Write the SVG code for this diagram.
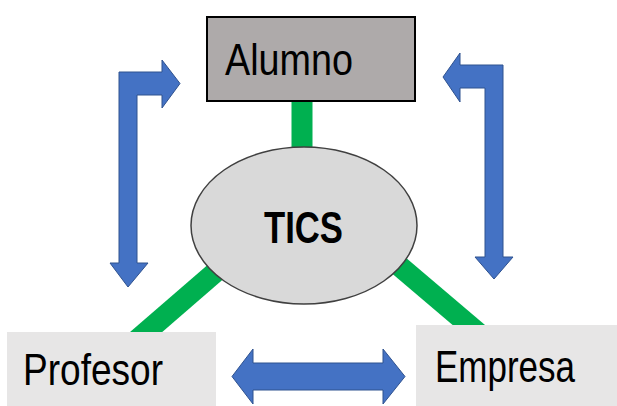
<svg xmlns="http://www.w3.org/2000/svg" width="617" height="406" viewBox="0 0 617 406">
<style>
.lbl{font-family:"Liberation Sans",Arial,sans-serif;font-size:45px;fill:#000}
.arr{fill:#4472C4;stroke:#2F528F;stroke-width:1}
.link{stroke:#00B050;stroke-width:21;fill:none}
</style>
<rect width="617" height="406" fill="#fff"/>
<g id="connectors">
<line class="link" x1="302" y1="101" x2="302" y2="160"/>
<line class="link" x1="264" y1="230" x2="130" y2="346"/>
<line class="link" x1="357" y1="230" x2="490" y2="343"/>
<path class="arr" d="M128,287 L110,263 L119,263 L119,72 L162,72 L162,60 L180,83.5 L162,108 L162,95 L137,95 L137,263 L148,263 Z"/>
<path class="arr" d="M494,279 L475,257 L485,257 L485,88 L460,88 L460,102 L443,77 L460,53 L460,65 L503,65 L503,257 L513,257 Z"/>
<path class="arr" d="M232,376.5 L253,349 L253,363 L383,363 L383,349 L405,376.5 L383,404 L383,390 L253,390 L253,404 Z"/>
</g>
<g id="alumno">
<rect x="207" y="17" width="208" height="84" fill="#AEAAAA" stroke="#000" stroke-width="2"/>
<text class="lbl" x="225" y="75" textLength="128" lengthAdjust="spacingAndGlyphs">Alumno</text>
</g>
<g id="tics">
<ellipse cx="304" cy="225.5" rx="113" ry="78.5" fill="#D9D9D9" stroke="#404040" stroke-width="1.5"/>
<text class="lbl" x="264" y="243" font-weight="bold" font-size="46" textLength="79" lengthAdjust="spacingAndGlyphs">TICS</text>
</g>
<g id="profesor">
<rect x="7" y="332" width="209" height="74" fill="#E7E6E6"/>
<text class="lbl" x="23" y="385" textLength="140" lengthAdjust="spacingAndGlyphs">Profesor</text>
</g>
<g id="empresa">
<rect x="416" y="325" width="201" height="81" fill="#E7E6E6"/>
<text class="lbl" x="435" y="382" textLength="140" lengthAdjust="spacingAndGlyphs">Empresa</text>
</g>
</svg>
